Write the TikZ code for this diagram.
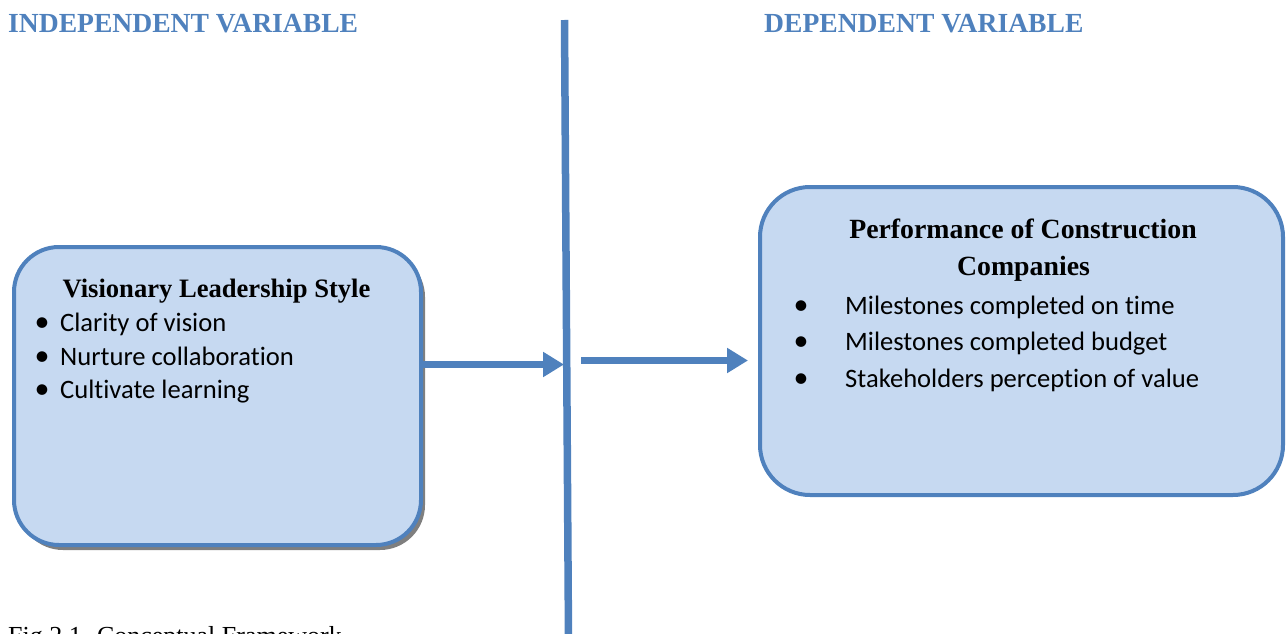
\documentclass[tikz,border=0pt]{standalone}
\usepackage{fontspec}
\setmainfont{Liberation Serif}
\newfontfamily\bodyfont[RawFeature=-liga]{Carlito}
\usetikzlibrary{arrows.meta,shadows}
\definecolor{accent}{HTML}{4F81BD}
\definecolor{boxfill}{HTML}{C6D9F1}
\definecolor{shadowgray}{HTML}{7F7F7F}
\begin{document}
\begin{tikzpicture}[x=1pt,y=-1pt,
  varbox/.style={draw=accent, line width=4pt, fill=boxfill, inner sep=0pt},
  heading/.style={text=accent, font=\fontsize{27.6}{32}\selectfont\bfseries, inner sep=0pt, anchor=base west},
  boxtitle/.style={font=\fontsize{26.6}{32}\selectfont\bfseries, inner sep=0pt, anchor=base},
  item/.style={font=\bodyfont\fontsize{26.6}{32}\selectfont, inner sep=0pt, anchor=base west},
  dot/.style={font=\bodyfont\fontsize{30}{32}\selectfont, inner sep=0pt, anchor=base},
  link/.style={draw=accent, line width=7.5pt, -{Triangle[length=21pt,width=24pt]}}
]
\useasboundingbox (0,0) rectangle (1287,634);

% column headings
\node[heading] (indep) at (8,33) {INDEPENDENT VARIABLE};
\node[heading] (dep) at (764,33) {DEPENDENT VARIABLE};

% divider between the two sides
\coordinate (vtop) at (564.5,20);
\coordinate (vbot) at (568.5,640);
\draw[accent, line width=7.5pt] (vtop) -- (vbot);

% independent variable box
\node[varbox, rounded corners=45pt, minimum width=407pt, minimum height=298pt,
      drop shadow={shadow xshift=4pt, shadow yshift=-5pt, fill=shadowgray, opacity=1}]
      (leftbox) at (217.5,396) {};
\node[boxtitle] (lefttitle) at (216.5,297) {Visionary Leadership Style};
\node[dot] (lb1) at (42,331) {•};
\node[item] (li1) at (60,331) {Clarity of vision};
\node[dot] (lb2) at (42,365) {•};
\node[item] (li2) at (60,365) {Nurture collaboration};
\node[dot] (lb3) at (42,398) {•};
\node[item] (li3) at (60,398) {Cultivate learning};

% dependent variable box
\node[varbox, rounded corners=50pt, minimum width=523pt, minimum height=308pt]
      (rightbox) at (1021.5,341) {};
\node[boxtitle, font=\fontsize{27.8}{32}\selectfont\bfseries] (righttitle1) at (1023,238) {Performance of Construction};
\node[boxtitle, font=\fontsize{27.8}{32}\selectfont\bfseries] (righttitle2) at (1023.5,275) {Companies};
\node[dot] (rb1) at (801,314) {•};
\node[item] (ri1) at (845,314) {Milestones completed on time};
\node[dot] (rb2) at (801,350.5) {•};
\node[item] (ri2) at (845,350.5) {Milestones completed budget};
\node[dot] (rb3) at (801,387) {•};
\node[item] (ri3) at (845,387) {Stakeholders perception of value};

% influence arrows
\coordinate (a1e) at (564,364.5);
\draw[link] (leftbox.east |- a1e) -- (a1e);
\coordinate (a2s) at (581,360.5);
\draw[link, shorten >=10pt] (a2s) -- (rightbox.west |- a2s);

% caption, running off the lower edge
\node[font=\fontsize{26}{30}\selectfont, inner sep=0pt, anchor=base west] (caption) at (8,644) {Fig 2.1. Conceptual Framework};
\end{tikzpicture}
\end{document}
